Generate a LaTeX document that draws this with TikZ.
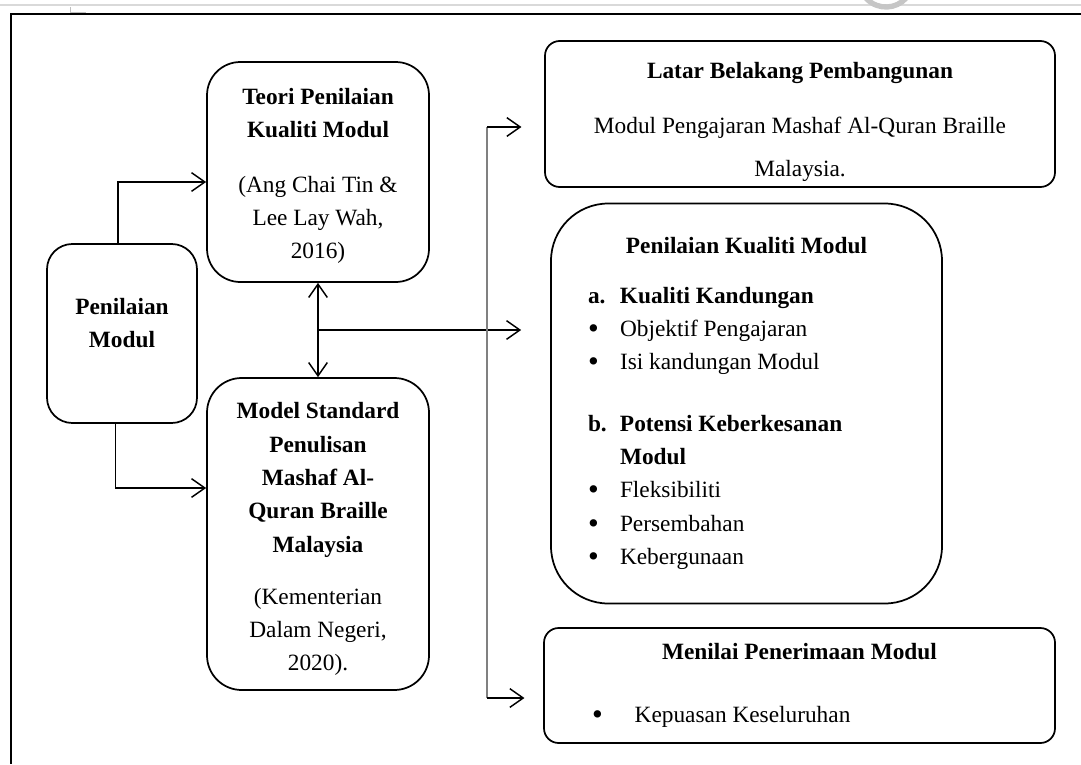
\documentclass[tikz,border=0pt]{standalone}
\usepackage{fontspec}
\setmainfont{Liberation Serif}
\usetikzlibrary{arrows.meta,positioning}
\newcommand{\lift}[2]{\raisebox{#1}[\height][\depth]{\begin{tabular}{@{}c@{}}#2\end{tabular}}}
\newcommand{\dotmark}{\raisebox{-1.5pt}[0pt][0pt]{\fontsize{23}{25}\selectfont\textbullet}}

\begin{document}
\begin{tikzpicture}[x=0.75pt,y=-0.75pt,
  font=\fontsize{17.5}{25}\selectfont,
  box/.style={draw, line width=1.3pt, rounded corners=#1, align=center, inner sep=0pt},
  box/.default=20pt,
  arr/.style={-{Straight Barb[length=10pt,width=14pt]}, line width=1.1pt},
  arrboth/.style={{Straight Barb[length=10pt,width=14pt]}-{Straight Barb[length=10pt,width=14pt]}, line width=1.1pt},
  trunk/.style={draw=gray, line width=0.9pt}]
\useasboundingbox (0,0) rectangle (1081,764);

% page frame
\draw[gray!30, line width=0.8pt] (0,5) -- (1081,5);
\draw[gray!50, line width=0.6pt] (70,7) |- (86,12);
\draw[gray!45, line width=4pt] (886,-20) ++(20:27) arc[start angle=20, end angle=160, radius=27];
\draw[line width=1.3pt] (1081,14) -- (11,14) -- (11,764);

\node[box=19pt, minimum width=112.5pt, minimum height=134.25pt] (penilaian) at (122,333.5) {\lift{7pt}{\textbf{Penilaian}\\\textbf{Modul}}};
\node[box=25pt, minimum width=166.5pt, minimum height=165pt] (teori) at (318,172) {\lift{-2pt}{\textbf{Teori Penilaian}\\\textbf{Kualiti Modul}\\[16pt](Ang Chai Tin \&\\Lee Lay Wah,\\2016)}};
\node[box=26pt, minimum width=166.5pt, minimum height=234pt] (model) at (318,534) {\lift{-3pt}{\textbf{Model Standard}\\\textbf{Penulisan}\\\textbf{Mashaf Al-}\\\textbf{Quran Braille}\\\textbf{Malaysia}\\[14pt](Kementerian\\Dalam Negeri,\\2020).}};

\node[box=11pt, minimum width=382.5pt, minimum height=109.5pt] (latar) at (800,114) {\lift{-5pt}{\textbf{Latar Belakang Pembangunan}\\[16pt]Modul Pengajaran Mashaf Al-Quran Braille\\[7pt]Malaysia.}};
\node[box=43pt, minimum width=293.25pt, minimum height=300pt, align=left, inner xsep=27.75pt] (kualiti) at (746.5,403.5) {\makebox[237.75pt]{\textbf{Penilaian Kualiti Modul}}\\[12pt]
\makebox[24pt][l]{\textbf{a.}}\textbf{Kualiti Kandungan}\\
\makebox[24pt][l]{\dotmark}Objektif Pengajaran\\
\makebox[24pt][l]{\dotmark}Isi kandungan Modul\\[21pt]
\makebox[24pt][l]{\textbf{b.}}\textbf{Potensi Keberkesanan}\\
\hspace*{24pt}\textbf{Modul}\\
\makebox[24pt][l]{\dotmark}Fleksibiliti\\
\makebox[24pt][l]{\dotmark}Persembahan\\
\makebox[24pt][l]{\dotmark}Kebergunaan};
\node[box=11pt, minimum width=383.25pt, minimum height=86.25pt, align=left, inner xsep=36pt] (menilai) at (799.5,685.5) {\makebox[311.25pt]{\textbf{Menilai Penerimaan Modul}}\\[22pt]\makebox[32pt][l]{\dotmark}Kepuasan Keseluruhan};

% left side
\draw[arr] ([xshift=-3pt]penilaian.north) |- ([yshift=-7.5pt]teori.west);
\draw[arr] ([xshift=-5pt]penilaian.south) |- ([yshift=34.5pt]model.west);
\draw[arrboth] (teori.south) -- (model.north);
\path (teori.south) -- (model.north) coordinate[pos=0.5] (split);
\draw[arr, shorten >=21.75pt] (split) -- (split -| kualiti.west);

% right side
\coordinate (trunktop) at (487,127);
\coordinate (trunkbot) at (487,698);
\draw[trunk] (trunktop) -- (trunkbot);
\draw[arr, shorten >=17pt] (trunktop) -- (trunktop -| latar.west);
\draw[arr, shorten >=14pt] (trunkbot) -- (trunkbot -| menilai.west);
\end{tikzpicture}
\end{document}
